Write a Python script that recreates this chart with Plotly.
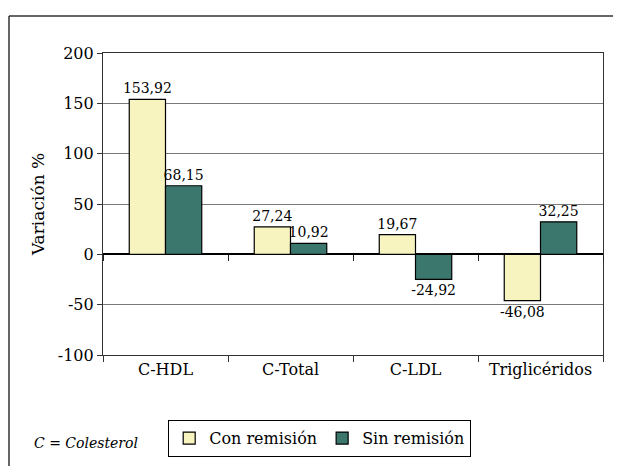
import plotly.graph_objects as go

categories = ["C-HDL", "C-Total", "C-LDL", "Triglicéridos"]
con_remision = [153.92, 27.24, 19.67, -46.08]
sin_remision = [68.15, 10.92, -24.92, 32.25]
series_names = ["Con remisión", "Sin remisión"]
y_ticks = [-100, -50, 0, 50, 100, 150, 200]


def fmt(v):
    return f"{v:.2f}".replace(".", ",")


FONT = "DejaVu Serif"

W, H = 613, 458
L, R, T, B = 95, 18, 45, 111
PW, PH = W - L - R, H - T - B

fig = go.Figure()
fig.add_trace(go.Bar(
    x=categories, y=con_remision, name=series_names[0],
    marker=dict(color="#F7F4BF", line=dict(color="black", width=1.2)),
    text=[fmt(v) for v in con_remision], textposition="outside", cliponaxis=False,
    constraintext="none",
    textfont=dict(family=FONT, size=14, color="black"),
))
fig.add_trace(go.Bar(
    x=categories, y=sin_remision, name=series_names[1],
    marker=dict(color="#3B776D", line=dict(color="black", width=1.2)),
    text=[fmt(v) for v in sin_remision], textposition="outside", cliponaxis=False,
    constraintext="none",
    textfont=dict(family=FONT, size=14, color="black"),
))

fig.add_trace(go.Bar(x=categories, y=[None]*4, xaxis="x2", showlegend=False, hoverinfo="skip"))

fig.update_layout(
    width=W, height=H,
    paper_bgcolor="white", plot_bgcolor="white",
    barmode="group", bargap=0.42, bargroupgap=0,
    margin=dict(l=L, r=R, t=T, b=B, autoexpand=False),
    font=dict(family=FONT, size=16, color="black"),
    xaxis=dict(
        showgrid=False, showline=True, linecolor="#333", linewidth=1.2, mirror=True,
        ticks="outside", ticklen=6, tickcolor="#333", tickson="boundaries",
        tickfont=dict(family=FONT, size=16, color="black"), automargin=False,
    ),
    xaxis2=dict(
        overlaying="x", anchor="free", position=1/3, matches="x",
        showgrid=False, showline=False, showticklabels=False,
        ticks="outside", ticklen=6, tickcolor="#222", tickson="boundaries",
    ),
    yaxis=dict(
        range=[-100, 200], tickvals=y_ticks, ticktext=[str(t) for t in y_ticks],
        showgrid=True, gridcolor="#7a7a7a", gridwidth=1,
        zeroline=True, zerolinecolor="black", zerolinewidth=2,
        showline=True, linecolor="#333", linewidth=1.2, mirror=True,
        ticks="outside", ticklen=5, tickcolor="#333", automargin=False,
        tickfont=dict(family=FONT, size=16, color="black"),
        title=dict(text="Variación %", font=dict(family=FONT, size=17, color="black"), standoff=8),
    ),
    legend=dict(
        orientation="h", x=0.13, xanchor="left", y=-0.215, yanchor="top",
        bordercolor="black", borderwidth=1.2, bgcolor="white",
        font=dict(family=FONT, size=16, color="black"),
        itemwidth=30, traceorder="normal",
    ),
    shapes=[
        dict(type="line", xref="paper", yref="paper", x0=-(L - 1)/PW, x1=-(L - 1)/PW,
             y0=(PH + T - 8)/PH, y1=-(B + 5)/PH, line=dict(color="#333", width=1.5)),
        dict(type="line", xref="paper", yref="paper", x0=-(L - 1)/PW, x1=1.1,
             y0=(PH + T - 8)/PH, y1=(PH + T - 8)/PH, line=dict(color="#333", width=1.5)),
    ],
    annotations=[
        dict(text="<i>C = Colesterol</i>", xref="paper", yref="paper",
             x=-(L - 24)/PW, y=-(443 - 355)/PH, xanchor="left", yanchor="middle",
             showarrow=False, font=dict(family=FONT, size=14, color="black")),
    ],
)

fig.write_html("out.html")
